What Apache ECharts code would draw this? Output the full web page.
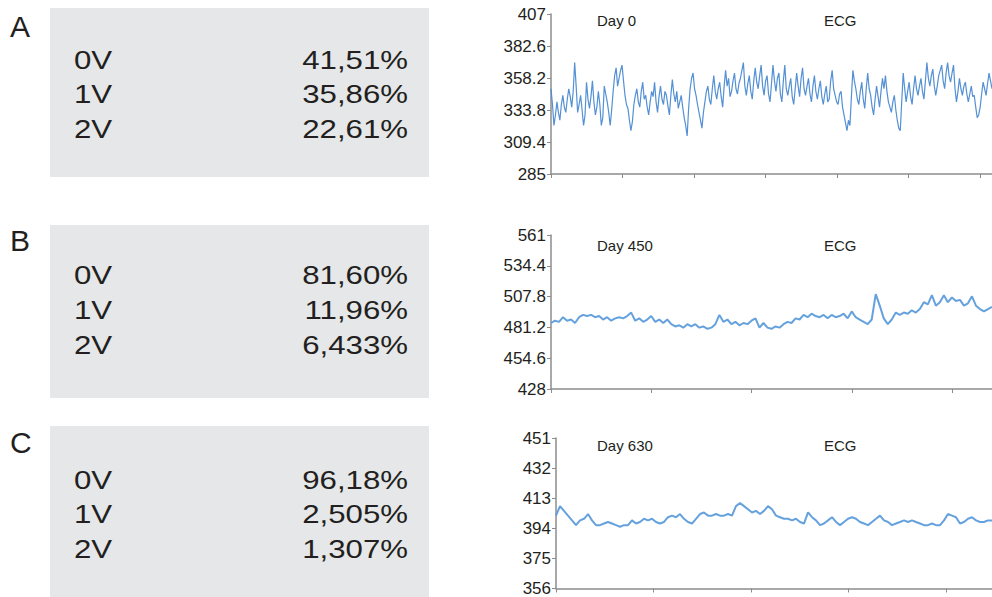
<!DOCTYPE html>
<html><head><meta charset="utf-8">
<script src="https://cdn.jsdelivr.net/npm/echarts@6/dist/echarts.min.js"></script>
<style>html,body{margin:0;padding:0;background:#fff}#c{width:992px;height:597px}</style>
</head><body><div id="c"></div>
<script>
// ---- data ----
const panelLetters = ['A', 'B', 'C'];
const dayLabels = ['Day 0', 'Day 450', 'Day 630'];
const chartTitle = 'ECG';
const voltageLabels = ['0V', '1V', '2V'];
const pctA = ['41,51%', '35,86%', '22,61%'];
const pctB = ['81,60%', '11,96%', '6,433%'];
const pctC = ['96,18%', '2,505%', '1,307%'];

const yTicksA = [285, 309.4, 333.8, 358.2, 382.6, 407];
const yTicksB = [428, 454.6, 481.2, 507.8, 534.4, 561];
const yTicksC = [356, 375, 394, 413, 432, 451];

const ecgA = [
  350,338,322,330,340,332,326,338,345,336,332,342,350,344,336,348,370,352,332,338,345,334,322,330,355,342,335,344,356,340,330,336,348,338,322,328,352,346,340,332,
  322,334,348,360,366,352,358,364,368,356,345,338,335,326,318,325,338,345,350,340,336,348,355,342,345,336,330,340,348,344,355,340,332,344,352,342,338,348,345,337,
  330,345,357,346,340,348,335,340,345,336,328,322,314,335,350,358,362,350,345,338,332,326,320,332,340,348,352,342,338,350,360,348,342,350,355,344,336,352,364,352,
  358,344,348,356,362,350,346,354,358,364,370,352,345,354,360,348,342,356,366,355,350,360,368,352,345,356,360,346,340,354,368,356,348,358,362,346,340,356,368,350,
  345,352,358,344,338,350,362,352,344,358,366,350,345,352,358,346,340,352,360,348,342,350,356,344,338,346,352,340,342,356,364,350,345,340,338,346,348,336,330,324,
  318,326,322,344,364,356,350,342,338,348,355,342,335,350,362,350,345,336,330,342,352,344,336,348,358,350,360,348,340,336,332,340,345,334,326,320,318,340,362,350,
  340,348,355,344,338,350,360,350,345,352,358,348,342,356,370,358,352,360,365,352,345,352,360,364,368,356,350,362,370,360,355,362,368,350,340,348,358,350,345,352,
  355,346,340,346,352,344,345,336,328,330,336,346,355,350,345,354,362,356,350];

const ecgB = [485,487,486,490,487,488,485,490,492,491,492,490,491,488,490,487,489,490,489,491,
  494,487,489,486,488,491,486,488,485,488,484,482,483,481,484,482,484,481,482,480,
  481,484,492,486,488,484,486,483,485,484,487,489,481,485,481,480,482,481,484,486,
  485,489,488,492,490,493,491,490,492,489,492,490,491,493,489,495,490,488,486,484,
  488,510,500,489,484,488,494,492,494,493,496,494,497,503,501,509,500,503,509,503,
  507,504,505,500,502,508,500,497,495,497,499];

const ecgC = [402,408,405,402,399,396,399,400,403,399,396,396,397,398,397,396,395,396,396,399,
  397,398,400,399,400,398,397,398,401,402,401,403,400,398,397,400,403,404,402,402,
  403,402,402,403,402,408,410,408,406,404,405,403,405,408,406,402,401,400,400,399,
  400,398,397,404,401,399,396,397,399,401,398,396,398,400,401,400,398,397,396,398,
  400,402,399,398,396,397,398,399,398,399,398,397,396,396,397,396,396,399,403,402,
  401,397,398,400,401,399,398,398,399,399];

// ---- layout ----
const FONT = 'Liberation Sans, Arial, Helvetica, sans-serif';
const TEXT = '#231f20';
const AXIS = '#8c8c8c';
const panels = [
  { letter: panelLetters[0], day: dayLabels[0], pct: pctA, data: ecgA, ticks: yTicksA,
    box: [50, 8, 379, 169], letterY: 26, rowY: [59.5, 94, 128.5], lw: 1.2, color: '#4a8ad2',
    grid: { left: 551, top: 14, width: 441, height: 160 }, tickPx: 71.5, titleY: 20 },
  { letter: panelLetters[1], day: dayLabels[1], pct: pctB, data: ecgB, ticks: yTicksB,
    box: [50, 225, 379, 173], letterY: 240, rowY: [275, 310, 345], lw: 2, color: '#5d9ddb',
    grid: { left: 551, top: 235, width: 441, height: 154 }, tickPx: 100.3, titleY: 245.5 },
  { letter: panelLetters[2], day: dayLabels[2], pct: pctC, data: ecgC, ticks: yTicksC,
    box: [50, 426, 379, 171], letterY: 442, rowY: [479.5, 514, 548.5], lw: 2, color: '#5d9ddb',
    grid: { left: 556, top: 438, width: 436, height: 154 }, tickPx: 97.5, titleY: 445 }
];

const grids = [], xAxes = [], yAxes = [], series = [], graphics = [];
panels.forEach((p, k) => {
  grids.push(Object.assign({ containLabel: false }, p.grid));
  const n = p.data.length;
  xAxes.push({
    type: 'value', gridIndex: k, min: 0, max: n - 1,
    interval: (n - 1) * p.tickPx / p.grid.width,
    axisLine: { show: true, lineStyle: { color: AXIS, width: 1.5 } },
    axisTick: { show: true, length: 4, lineStyle: { color: AXIS, width: 1 } },
    axisLabel: { show: false }, splitLine: { show: false }
  });
  yAxes.push({
    type: 'value', gridIndex: k, min: p.ticks[0], max: p.ticks[p.ticks.length - 1],
    axisLine: { show: true, lineStyle: { color: AXIS, width: 1.5 } },
    axisTick: { show: true, length: 4, customValues: p.ticks, lineStyle: { color: AXIS, width: 1 } },
    axisLabel: { show: true, customValues: p.ticks, margin: 5, color: TEXT, fontSize: 17,
      fontFamily: FONT, formatter: v => String(+(+v).toFixed(1)) },
    splitLine: { show: false }
  });
  series.push({
    type: 'line', xAxisIndex: k, yAxisIndex: k, showSymbol: false, symbol: 'none',
    data: p.data.map((v, i) => [i, v]), silent: true, animation: false,
    lineStyle: { color: p.color, width: p.lw, opacity: 0.95 }
  });
  graphics.push({ type: 'rect', shape: { x: p.box[0], y: p.box[1], width: p.box[2], height: p.box[3] },
    style: { fill: '#e6e7e8' }, z: -1 });
  graphics.push({ type: 'text', x: 10, y: p.letterY,
    style: { text: p.letter, fontSize: 30, fontFamily: FONT, fill: TEXT, textAlign: 'left', textVerticalAlign: 'middle' } });
  voltageLabels.forEach((lab, r) => {
    graphics.push({ type: 'text', x: 74, y: p.rowY[r], scaleX: 1.2,
      style: { text: lab, fontSize: 26, fontFamily: FONT, fill: TEXT, textAlign: 'left', textVerticalAlign: 'middle' } });
    graphics.push({ type: 'text', x: 408, y: p.rowY[r], scaleX: 1.2,
      style: { text: p.pct[r], fontSize: 26, fontFamily: FONT, fill: TEXT, textAlign: 'right', textVerticalAlign: 'middle' } });
  });
  graphics.push({ type: 'text', x: 597, y: p.titleY,
    style: { text: p.day, fontSize: 15, fontFamily: FONT, fill: TEXT, textAlign: 'left', textVerticalAlign: 'middle' } });
  graphics.push({ type: 'text', x: 824, y: p.titleY,
    style: { text: chartTitle, fontSize: 15, fontFamily: FONT, fill: TEXT, textAlign: 'left', textVerticalAlign: 'middle' } });
});

const chart = echarts.init(document.getElementById('c'), null, { renderer: 'svg' });
chart.setOption({
  animation: false,
  backgroundColor: '#ffffff',
  grid: grids, xAxis: xAxes, yAxis: yAxes, series: series,
  graphic: graphics
});
</script></body></html>
